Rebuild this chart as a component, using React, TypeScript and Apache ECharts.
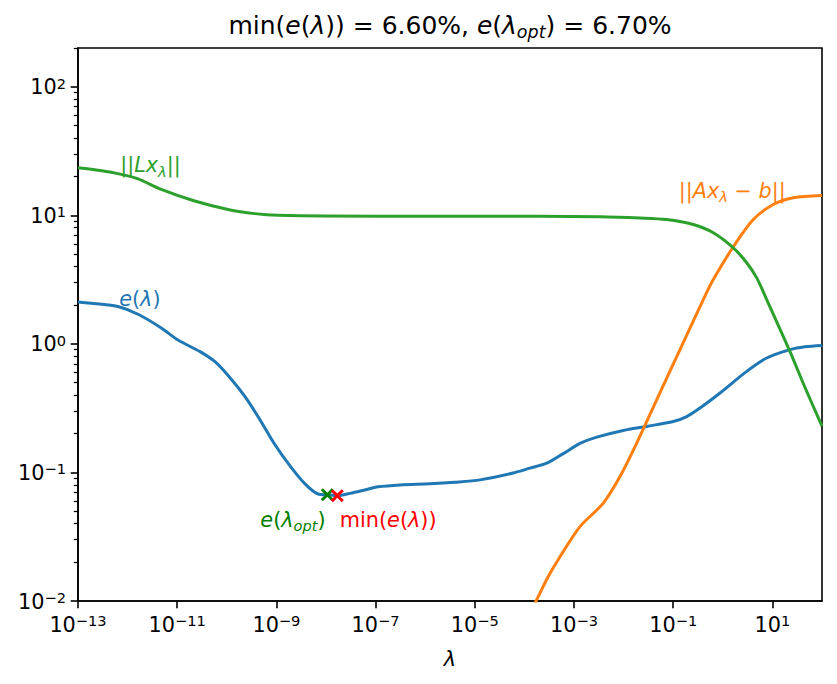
import React, { useEffect, useRef } from "react";
import * as echarts from "echarts";

// ---- data: log10(λ) sample positions and curve values ----
const errLogLambda = [
  -13, -12.556, -12.194, -11.79, -11.321, -10.984, -10.54, -10.238, -9.935, -9.633,
  -9.331, -9.028, -8.726, -8.423, -8.161, -7.974, -7.772, -7.516, -7.214, -6.952,
  -6.508, -5.903, -5.399, -4.895, -4.224, -3.887, -3.55, -3.216, -2.879, -2.542,
  -2.006, -1.534, -0.998, -0.728, -0.46, -0.056, 0.482, 0.885, 1.355, 1.657, 2.0,
];
const errValues = [
  2.12, 2.04, 1.95, 1.7, 1.33, 1.07, 0.87, 0.726, 0.545, 0.388,
  0.257, 0.164, 0.1125, 0.0815, 0.068, 0.067, 0.066, 0.0687, 0.0731, 0.0773,
  0.08, 0.0815, 0.0838, 0.0875, 0.099, 0.108, 0.118, 0.14, 0.168, 0.188,
  0.212, 0.228, 0.249, 0.272, 0.317, 0.415, 0.611, 0.776, 0.902, 0.95, 0.973,
];

const residLogLambda = [
  -3.988, -3.766, -3.524, -3.282, -2.879, -2.409, -2.073, -1.736, -1.333, -0.863,
  -0.393, -0.192, 0.212, 0.615, 1.018, 1.421, 2.0,
];
const residValues = [
  0.00686, 0.01, 0.01538, 0.0221, 0.0379, 0.0577, 0.0929, 0.169, 0.367, 0.902,
  2.21, 3.16, 5.69, 9.27, 12.13, 13.68, 14.26,
];

const normLogLambda = [
  -13, -12.556, -12.127, -11.79, -11.321, -10.647, -9.976, -9.438, -8.968, -6.952,
  -4.935, -2.476, -1.669, -1.131, -0.595, -0.192, 0.212, 0.482, 0.684, 0.885,
  1.355, 1.657, 2.0,
];
const normValues = [
  23.4, 22.3, 20.8, 19.2, 15.9, 12.9, 11.1, 10.3, 10.0, 9.84,
  9.84, 9.73, 9.53, 9.27, 8.47, 7.31, 5.58, 4.27, 3.26, 2.21,
  0.87, 0.458, 0.229,
];

// chosen regularisation parameter and the error minimum
const optLogLambda = -7.974;
const optErr = 0.067;
const minLogLambda = -7.772;
const minErr = 0.066;

// axis structure
const X_MIN_EXP = -13;
const X_MAX_EXP = 2;
const X_TICK_EXPS = [-13, -11, -9, -7, -5, -3, -1, 1];
const Y_MIN_EXP = -2;
const Y_MAX_VALUE = 200;
const Y_TICK_EXPS = [-2, -1, 0, 1, 2];
const MINOR_MULTS = [2, 3, 4, 5, 6, 7, 8, 9];

// ---- helpers ----
const FONT = "DejaVu Sans";
const C_BLUE = "#1f77b4";
const C_ORANGE = "#ff7f0e";
const C_GREEN = "#2ca02c";

const toX = (l: number) => l - X_MIN_EXP;
const toY = (v: number) => Math.log10(v) - Y_MIN_EXP;
const pairs = (ls: number[], vs: number[]) => ls.map((l, i) => [toX(l), toY(vs[i])]);

const yMax = toY(Y_MAX_VALUE);
const yMinor: number[] = [];
Y_TICK_EXPS.forEach((d) =>
  MINOR_MULTS.forEach((m) => {
    const v = toY(m * Math.pow(10, d));
    if (v <= yMax + 1e-9) yMinor.push(v);
  })
);

const fmtExp = (e: number) => (e < 0 ? "\u2212" + -e : String(e));
const pow10 = (e: number) => `{b|10}{s|${fmtExp(e)}}`;

const tickRich = {
  b: { fontFamily: FONT, fontSize: 20.8, lineHeight: 22, verticalAlign: "bottom", color: "#000" },
  s: { fontFamily: FONT, fontSize: 14.6, lineHeight: 14, verticalAlign: "top", color: "#000" },
};

const mathRich = (color: string, size: number, lh: number) => ({
  n: { color, fontFamily: FONT, fontSize: size, lineHeight: lh, verticalAlign: "top" },
  i: { color, fontFamily: FONT, fontSize: size, lineHeight: lh, verticalAlign: "top", fontStyle: "italic" },
  si: {
    color,
    fontFamily: FONT,
    fontSize: size * 0.7,
    lineHeight: size * 0.7,
    verticalAlign: "bottom",
    fontStyle: "italic",
  },
});

const pct = (v: number) => (v * 100).toFixed(2) + "%";

const xMarkPath =
  "path://M0,1.6L1.6,0L5,3.4L8.4,0L10,1.6L6.6,5L10,8.4L8.4,10L5,6.6L1.6,10L0,8.4L3.4,5Z";

const textSeries = (
  x: number,
  y: number,
  text: string,
  color: string,
  side: "left" | "right"
) => ({
  type: "scatter",
  silent: true,
  symbolSize: 1,
  itemStyle: { color: "transparent", opacity: 1 },
  z: 5,
  data: [[x, y]],
  label: {
    show: true,
    position: side,
    distance: 0,
    opacity: 1,
    formatter: text,
    rich: mathRich(color, 20.8, 24),
  },
});

const curve = (ls: number[], vs: number[], color: string) => ({
  type: "line",
  data: pairs(ls, vs),
  showSymbol: false,
  smooth: 0.3,
  clip: true,
  lineStyle: { color, width: 3 },
  itemStyle: { color },
  z: 2,
});

const marker = (l: number, v: number, color: string) => ({
  type: "scatter",
  silent: true,
  symbol: xMarkPath,
  symbolSize: 13,
  itemStyle: { color, opacity: 1 },
  data: [[toX(l), toY(v)]],
  z: 4,
});

export default function App() {
  const ref = useRef<HTMLDivElement>(null);

  useEffect(() => {
    if (!ref.current) return;
    const chart = echarts.init(ref.current, undefined, { renderer: "svg" });

    const axisLine = { show: true, lineStyle: { color: "#000", width: 1.6 } };

    const option: any = {
      animation: false,
      backgroundColor: "#fff",
      grid: {
        left: 78,
        top: 48,
        width: 744,
        height: 553,
        show: true,
        borderColor: "#000",
        borderWidth: 1.6,
        backgroundColor: "transparent",
      },
      xAxis: {
        type: "value",
        min: 0,
        max: toX(X_MAX_EXP),
        interval: 2,
        axisLine,
        splitLine: { show: false },
        axisTick: {
          show: true,
          length: 7.3,
          lineStyle: { color: "#000", width: 1.6 },
          customValues: X_TICK_EXPS.map(toX),
        },
        axisLabel: {
          margin: 12,
          hideOverlap: false,
          customValues: X_TICK_EXPS.map(toX),
          formatter: (v: number) => pow10(Math.round(v) + X_MIN_EXP),
          rich: tickRich,
        },
      },
      yAxis: [
        {
          type: "value",
          min: 0,
          max: yMax,
          interval: 1,
          axisLine,
          splitLine: { show: false },
          axisTick: {
            show: true,
            length: 7.3,
            lineStyle: { color: "#000", width: 1.6 },
            customValues: Y_TICK_EXPS.map((e) => e - Y_MIN_EXP),
          },
          axisLabel: {
            margin: 12,
            hideOverlap: false,
            customValues: Y_TICK_EXPS.map((e) => e - Y_MIN_EXP),
            formatter: (v: number) => pow10(Math.round(v) + Y_MIN_EXP),
            rich: tickRich,
          },
        },
        {
          // minor ticks at 2..9 × 10^n
          type: "value",
          position: "left",
          min: 0,
          max: yMax,
          axisLine: { show: false },
          splitLine: { show: false },
          axisLabel: { show: false },
          axisTick: {
            show: true,
            length: 4.2,
            lineStyle: { color: "#000", width: 1.25 },
            customValues: yMinor,
          },
        },
      ],
      series: [
        curve(errLogLambda, errValues, C_BLUE),
        curve(residLogLambda, residValues, C_ORANGE),
        curve(normLogLambda, normValues, C_GREEN),
        marker(optLogLambda, optErr, "#008000"),
        marker(minLogLambda, minErr, "#ff0000"),
        textSeries(toX(-12.16), 1.376 + 2, "{n|||}{i|Lx}{si|λ}{n|||}", C_GREEN, "right"),
        textSeries(toX(-12.18), 0.334 + 2, "{i|e}{n|(}{i|λ}{n|)}", C_BLUE, "right"),
        textSeries(toX(-0.897), 1.181 + 2, "{n|||}{i|Ax}{si|λ}{n| \u2212 }{i|b}{n|||}", C_ORANGE, "right"),
        textSeries(toX(-8.0), -1.381 + 2, "{i|e}{n|(}{i|λ}{si|opt}{n|)}", "#008000", "left"),
        textSeries(toX(-7.732), -1.381 + 2, "{n|min(}{i|e}{n|(}{i|λ}{n|))}", "#ff0000", "right"),
      ],
      graphic: [
        {
          type: "text",
          x: 450,
          y: 27,
          style: {
            text:
              `{n|min(}{i|e}{n|(}{i|λ}{n|)) = ${pct(minErr)}, }` +
              `{i|e}{n|(}{i|λ}{si|opt}{n|) = ${pct(optErr)}}`,
            rich: mathRich("#000", 25, 28),
            align: "center",
            verticalAlign: "middle",
            fill: "#000",
          },
        },
        {
          type: "text",
          x: 450,
          y: 659,
          style: {
            text: "λ",
            fontFamily: FONT,
            fontSize: 20.8,
            fontStyle: "italic",
            fill: "#000",
            align: "center",
            verticalAlign: "middle",
          },
        },
      ],
    };

    chart.setOption(option);
    return () => chart.dispose();
  }, []);

  return (
    <div
      ref={ref}
      style={{ position: "absolute", left: 0, top: 0, width: 837, height: 684, background: "#fff" }}
    />
  );
}
